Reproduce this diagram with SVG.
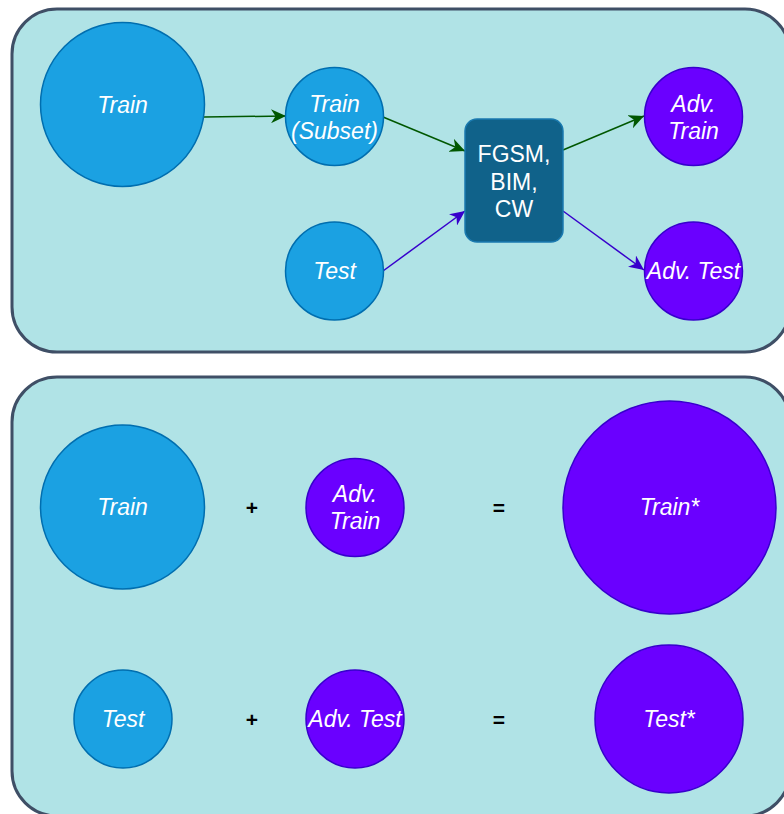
<svg xmlns="http://www.w3.org/2000/svg" width="784" height="814" viewBox="0 0 784 814">
<style>
.panel{fill:#b0e3e6;stroke:#3f4f66;stroke-width:3}
.blue{fill:#1ba1e2;stroke:#006eaf;stroke-width:1.5}
.purple{fill:#6a00ff;stroke:#3700cc;stroke-width:1.5}
.lbl{font-family:"Liberation Sans",Arial,sans-serif;font-size:23px;font-style:italic;fill:#ffffff;text-anchor:middle}
.box{fill:#10628a;stroke:#1a7ab0;stroke-width:1.5}
.boxt{font-family:"Liberation Sans",Arial,sans-serif;font-size:23px;fill:#ffffff;text-anchor:middle}
.op{font-family:"Liberation Sans",Arial,sans-serif;font-size:21px;font-weight:bold;fill:#000000;text-anchor:middle}
.g{stroke:#005700;stroke-width:1.5;fill:none}
.p{stroke:#3700cc;stroke-width:1.5;fill:none}
</style>
<defs>
<marker id="ag" viewBox="0 0 15 14" refX="15" refY="7" markerWidth="15" markerHeight="14" markerUnits="userSpaceOnUse" orient="auto">
<path d="M0,0 L15,7 L0,14 L4.5,7 z" fill="#005700"/>
</marker>
<marker id="ap" viewBox="0 0 15 14" refX="15" refY="7" markerWidth="15" markerHeight="14" markerUnits="userSpaceOnUse" orient="auto">
<path d="M0,0 L15,7 L0,14 L4.5,7 z" fill="#3700cc"/>
</marker>
</defs>
<g id="panel-top"><rect class="panel" x="12" y="9" width="778" height="343" rx="45"/></g>
<g id="panel-bottom"><rect class="panel" x="12" y="377" width="778" height="439" rx="45"/></g>

<g id="connectors">
<line class="g" x1="204" y1="117" x2="286" y2="116" marker-end="url(#ag)"/>
<line class="g" x1="383" y1="117" x2="465" y2="151" marker-end="url(#ag)"/>
<line class="p" x1="383" y1="271" x2="465" y2="211" marker-end="url(#ap)"/>
<line class="g" x1="563" y1="150" x2="644" y2="116" marker-end="url(#ag)"/>
<line class="p" x1="563" y1="211" x2="644" y2="270" marker-end="url(#ap)"/>
</g>

<g id="train-top"><circle class="blue" cx="122.5" cy="104.5" r="82"/><text class="lbl" x="122.5" y="112.5">Train</text></g>
<g id="train-subset"><circle class="blue" cx="334.5" cy="116.5" r="49"/><text class="lbl" x="334.5" y="112">Train</text><text class="lbl" x="334.5" y="138.5">(Subset)</text></g>
<g id="test-top"><circle class="blue" cx="334.5" cy="271" r="49"/><text class="lbl" x="334.5" y="279">Test</text></g>
<g id="attack"><rect class="box" x="465" y="119" width="98" height="123" rx="12"/><text class="boxt" x="514" y="162">FGSM,</text><text class="boxt" x="514" y="189.5">BIM,</text><text class="boxt" x="514" y="217">CW</text></g>
<g id="adv-train-top"><circle class="purple" cx="693.5" cy="116.5" r="49"/><text class="lbl" x="693.5" y="112">Adv.</text><text class="lbl" x="693.5" y="138.5">Train</text></g>
<g id="adv-test-top"><circle class="purple" cx="693.5" cy="271" r="49"/><text class="lbl" x="693.5" y="279">Adv. Test</text></g>

<g id="train-bottom"><circle class="blue" cx="122.5" cy="507" r="82"/><text class="lbl" x="122.5" y="515">Train</text></g>
<g id="plus-1"><text class="op" x="252" y="515">+</text></g>
<g id="adv-train-bottom"><circle class="purple" cx="355" cy="507.5" r="49"/><text class="lbl" x="355" y="502">Adv.</text><text class="lbl" x="355" y="528.5">Train</text></g>
<g id="eq-1"><text class="op" x="499" y="515">=</text></g>
<g id="train-star"><circle class="purple" cx="669.5" cy="507.5" r="106.5"/><text class="lbl" x="669.5" y="515">Train*</text></g>

<g id="test-bottom"><circle class="blue" cx="123" cy="719" r="49"/><text class="lbl" x="123" y="727">Test</text></g>
<g id="plus-2"><text class="op" x="252" y="727">+</text></g>
<g id="adv-test-bottom"><circle class="purple" cx="355" cy="719" r="49"/><text class="lbl" x="355" y="727">Adv. Test</text></g>
<g id="eq-2"><text class="op" x="499" y="727">=</text></g>
<g id="test-star"><circle class="purple" cx="669" cy="719" r="74"/><text class="lbl" x="669" y="727">Test*</text></g>
</svg>
